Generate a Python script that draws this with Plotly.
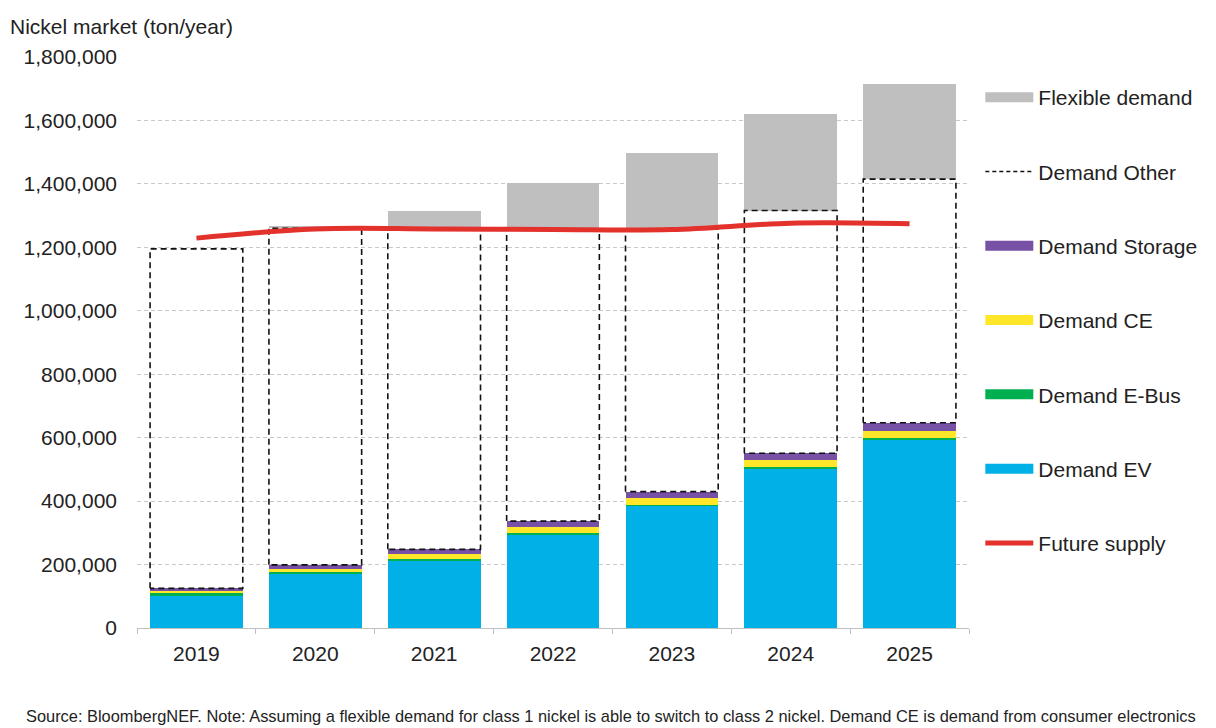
import plotly.graph_objects as go

years = ["2019", "2020", "2021", "2022", "2023", "2024", "2025"]
demand_ev = [104000, 172000, 214000, 295000, 385000, 503000, 595000]
demand_ebus = [5000, 5000, 3000, 3000, 3000, 3000, 3000]
demand_ce = [10000, 10000, 15000, 19000, 22000, 24000, 22000]
demand_storage = [6000, 12000, 16000, 20000, 20000, 21000, 27000]
demand_other = [1070000, 1061000, 1012000, 921000, 828000, 765000, 768000]
flexible = [0, 8000, 56000, 144000, 240000, 303000, 300000]
future_supply = [1229000, 1258000, 1258000, 1256000, 1256000, 1276000, 1274000]

yticks = [0, 200000, 400000, 600000, 800000, 1000000, 1200000, 1400000, 1600000, 1800000]

xs = list(range(len(years)))
bar_w = 0.78

colors = {
    "ev": "#00B0E6",
    "ebus": "#00B050",
    "ce": "#FFE629",
    "storage": "#7651A6",
    "flex": "#BFBFBF",
    "supply": "#E3312B",
}

W, H = 1208, 720
L, T, PW, PH = 129, 49, 832, 571

fig = go.Figure()

def add_bar(vals, color, name):
    fig.add_trace(go.Bar(x=xs, y=vals, width=bar_w, name=name,
                         marker=dict(color=color, line=dict(width=0)),
                         showlegend=False, hoverinfo="y+name"))

add_bar(demand_ev, colors["ev"], "Demand EV")
add_bar(demand_ebus, colors["ebus"], "Demand E-Bus")
add_bar(demand_ce, colors["ce"], "Demand CE")
add_bar(demand_storage, colors["storage"], "Demand Storage")
add_bar(demand_other, "rgba(255,255,255,0)", "Demand Other")
add_bar(flexible, colors["flex"], "Flexible demand")

# dashed outline of "Demand Other" computed from data
ox, oy = [], []
for i in xs:
    base = demand_ev[i] + demand_ebus[i] + demand_ce[i] + demand_storage[i]
    top = base + demand_other[i]
    l, r = i - bar_w / 2, i + bar_w / 2
    ox += [l, l, r, r, l, None]
    oy += [base, top, top, base, base, None]
fig.add_trace(go.Scatter(x=ox, y=oy, mode="lines", showlegend=False,
                         line=dict(color="#111111", width=1.6, dash="6px,4px"),
                         hoverinfo="skip"))

fig.add_trace(go.Scatter(x=xs, y=future_supply, mode="lines", name="Future supply",
                         line=dict(color=colors["supply"], width=5, shape="spline"),
                         showlegend=False))

# legend entries
legend_items = [
    ("Flexible demand", colors["flex"], None, 12),
    ("Demand Other", "#111111", "4px,3px", 1.5),
    ("Demand Storage", colors["storage"], None, 12),
    ("Demand CE", colors["ce"], None, 12),
    ("Demand E-Bus", colors["ebus"], None, 12),
    ("Demand EV", colors["ev"], None, 12),
    ("Future supply", colors["supply"], None, 5),
]
for k, (name, col, dash, w) in enumerate(legend_items):
    fig.add_trace(go.Scatter(x=[None], y=[None], mode="lines", name=name,
                             legendgroup=f"g{k}",
                             line=dict(color=col, width=w, dash=dash)))

fig.update_layout(
    width=W, height=H,
    margin=dict(l=L, r=W - L - PW, t=T, b=H - T - PH),
    barmode="stack",
    plot_bgcolor="white", paper_bgcolor="white",
    font=dict(family="Liberation Sans, Arial, sans-serif", size=21, color="#222222"),
    showlegend=True,
    legend=dict(x=1.0136, xanchor="left", y=0.965, yanchor="top",
                font=dict(size=21, color="#222222"),
                tracegroupgap=44, itemwidth=48, bgcolor="rgba(0,0,0,0)"),
    xaxis=dict(range=[-0.5, len(years) - 0.5], tickvals=xs, ticktext=years,
               showgrid=False, zeroline=False, showline=True, linecolor="#BFBFBF",
               linewidth=1, ticks="", tickfont=dict(size=21), ticklabelstandoff=7,
               minor=dict(tickvals=[i - 0.5 for i in range(len(years) + 1)],
                          ticks="outside", ticklen=5, tickcolor="#BFBFBF", showgrid=False)),
    yaxis=dict(range=[0, 1800000], tickvals=yticks,
               ticktext=[f"{v:,}" for v in yticks],
               showgrid=True, gridcolor="#C8C8C8", griddash="4px,3px", gridwidth=1,
               zeroline=False, showline=False, tickfont=dict(size=21), ticks="",
               ticklabelstandoff=19),
    annotations=[
        dict(text="Nickel market (ton/year)", xref="paper", yref="paper",
             x=-(L - 0) / PW, y=1 + 30 / PH, xanchor="left", yanchor="middle",
             showarrow=False, font=dict(size=21, color="#222222")),
        dict(text="Source: BloombergNEF. Note: Assuming a flexible demand for class 1 nickel is able to switch to class 2 nickel. Demand CE is demand from consumer electronics",
             xref="paper", yref="paper", x=(603 - L) / PW, y=-(716 - 628) / PH,
             xanchor="center", yanchor="middle", showarrow=False,
             font=dict(size=16.4, color="#222222")),
    ],
)

fig.write_html("out.html")
